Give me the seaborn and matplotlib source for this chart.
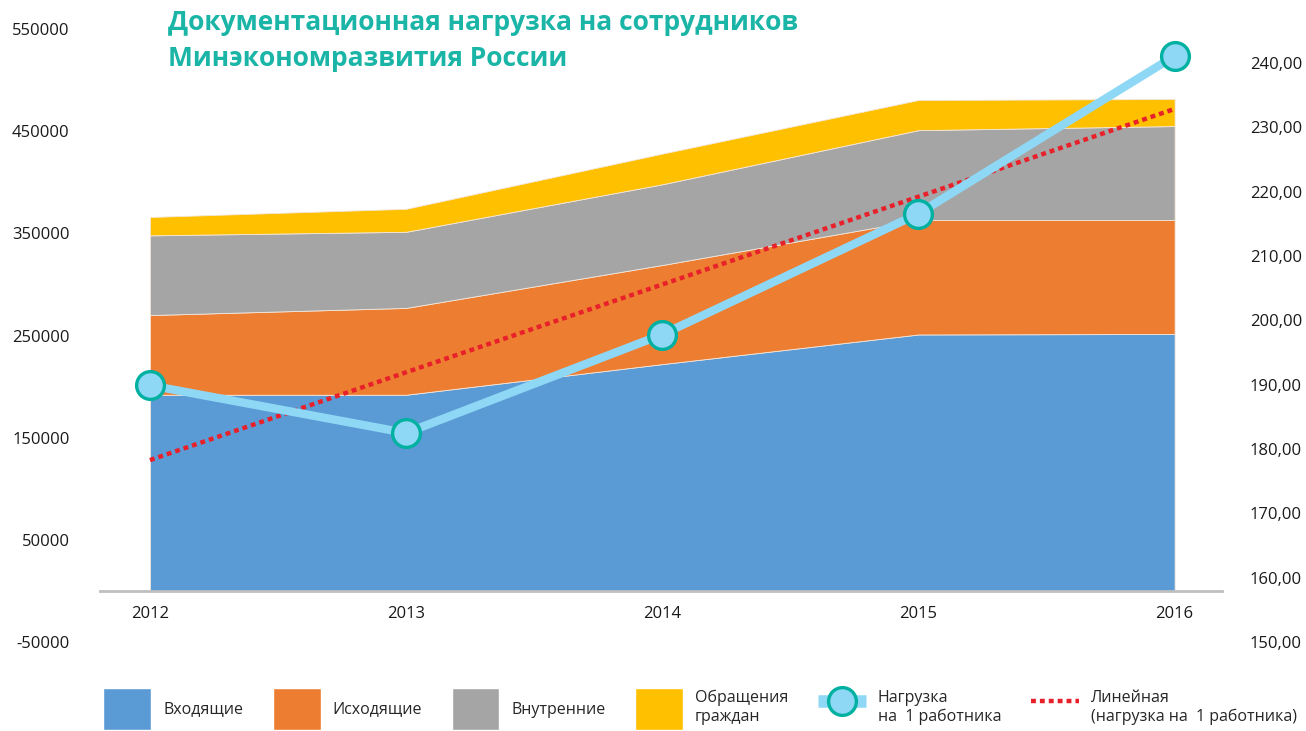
import numpy as np
import matplotlib
matplotlib.use("Agg")
import matplotlib.pyplot as plt
from matplotlib.patches import Patch
from matplotlib.lines import Line2D
from matplotlib.ticker import FuncFormatter
import seaborn as sns

# data
years = [2012, 2013, 2014, 2015, 2016]
incoming = [192000, 192000, 222000, 251000, 251500]
outgoing = [78000, 85000, 97000, 112000, 111500]
internal = [78000, 74500, 79000, 88000, 92000]
citizens = [18000, 22500, 30000, 29500, 26500]
load_per_worker = [189.9, 182.5, 197.8, 216.6, 241.1]

series_names = ["Входящие", "Исходящие", "Внутренние", "Обращения\nграждан"]
load_name = "Нагрузка\nна  1 работника"
trend_name = "Линейная\n(нагрузка на  1 работника)"
title = "Документационная нагрузка на сотрудников\nМинэкономразвития России"

colors = ["#5B9BD5", "#ED7D31", "#A5A5A5", "#FFC000"]
load_color = "#8ED8F6"
marker_edge = "#00B0A0"
trend_color = "#E8202A"

sns.set_theme(style="white")
plt.rcParams["font.family"] = ["Open Sans", "DejaVu Sans"]
plt.rcParams["axes.unicode_minus"] = False

fig = plt.figure(figsize=(13.06, 7.31), dpi=100)
ax = fig.add_axes([100 / 1306, 89 / 731, 1122 / 1306, 613 / 731])

ax.stackplot(years, incoming, outgoing, internal, citizens, colors=colors,
             edgecolor="#f3e6da", linewidth=0.6)
ax.set_xlim(2011.805, 2016.185)
ax.set_ylim(-50000, 550000)
ax.set_yticks(np.arange(-50000, 550001, 100000))
ax.set_xticks(years)
ax.set_xticklabels([str(y) for y in years])
for s in ["top", "right", "left"]:
    ax.spines[s].set_visible(False)
ax.spines["bottom"].set_position(("data", 0))
ax.spines["bottom"].set_color("#bfbfbf")
ax.spines["bottom"].set_linewidth(2)
ax.tick_params(axis="x", length=0, pad=11, labelsize=12, colors="#1a1a1a")
ax.tick_params(axis="y", length=0, pad=22, labelsize=12, colors="#1a1a1a")

ax2 = ax.twinx()
ax2.set_ylim(150, 245.3)
ax2.set_yticks(np.arange(150, 241, 10))
ax2.yaxis.set_major_formatter(FuncFormatter(lambda v, p: f"{v:.2f}".replace(".", ",")))
for s in ax2.spines.values():
    s.set_visible(False)
ax2.tick_params(axis="y", length=0, pad=20, labelsize=12, colors="#1a1a1a")

# linear trend of the load
k, b = np.polyfit(years, load_per_worker, 1)
trend = [k * y + b for y in years]
sns.lineplot(x=years, y=trend, ax=ax2, color=trend_color, linewidth=3.2,
             linestyle=(0, (1.1, 0.9)), dash_capstyle="butt", legend=False)

sns.lineplot(x=years, y=load_per_worker, ax=ax2, color=load_color, linewidth=6,
             marker="o", markersize=20, markerfacecolor=load_color,
             markeredgecolor=marker_edge, markeredgewidth=2.4, legend=False)
ax2.set_xlim(2011.805, 2016.185)

fig.text(168 / 1306, 1 - 9 / 731, title, color="#1AB5A6", fontsize=19,
         fontweight="bold", va="top", ha="left", linespacing=1.45)

handles = [Patch(facecolor=c) for c in colors]
handles.append(Line2D([], [], color=load_color, linewidth=9, marker="o", markersize=20,
                      markerfacecolor=load_color, markeredgecolor=marker_edge,
                      markeredgewidth=2.4, solid_capstyle="butt"))
handles.append(Line2D([], [], color=trend_color, linewidth=3.2,
                      linestyle=(0, (1.1, 0.9))))
labels = series_names + [load_name, trend_name]
fig.legend(handles, labels, loc="center", bbox_to_anchor=(0.536, 0.03), ncol=6,
           frameon=False, fontsize=11.5, handlelength=3.0, handleheight=3.6,
           handletextpad=0.75, columnspacing=1.85)

fig.savefig("out.png", dpi=100)
